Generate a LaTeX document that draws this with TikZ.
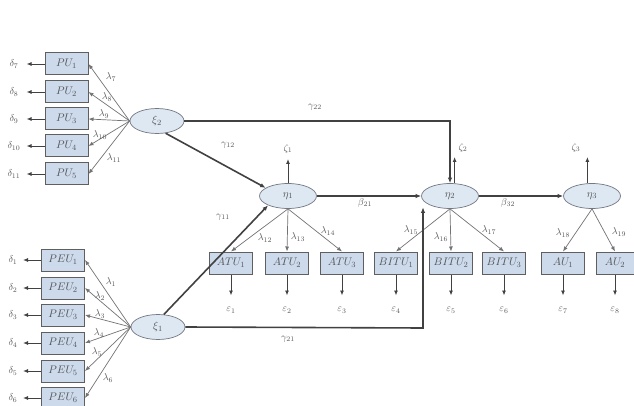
\documentclass[tikz,border=0pt]{standalone}
\usetikzlibrary{arrows.meta,shapes.geometric}
\definecolor{boxfill}{RGB}{204,218,236}
\definecolor{boxdraw}{RGB}{95,95,95}
\definecolor{ellfill}{RGB}{222,232,243}
\definecolor{elldraw}{RGB}{115,120,130}
\definecolor{strong}{RGB}{65,65,65}
\definecolor{weak}{RGB}{115,115,115}
\definecolor{lbl}{RGB}{85,85,85}
\begin{document}
\begin{tikzpicture}[x=1pt,y=-1pt,
  obs/.style={draw=boxdraw,fill=boxfill,line width=1pt,minimum width=43pt,minimum height=22pt,inner sep=0pt,font=\fontsize{11}{12}\selectfont,text=lbl},
  lat/.style={ellipse,draw=elldraw,fill=ellfill,line width=0.7pt,minimum width=54pt,minimum height=25pt,inner sep=0pt,font=\fontsize{11}{12}\selectfont,text=lbl},
  strongarr/.style={draw=strong,line width=1.6pt,-{Latex[length=5.5pt,width=4.5pt]}},
  weakarr/.style={draw=weak,line width=0.7pt,-{Latex[length=5pt,width=4pt]}},
  errarr/.style={draw=strong,line width=0.9pt,-{Latex[length=5pt,width=4pt]}},
  lab/.style={font=\fontsize{10}{11}\selectfont,text=lbl,inner sep=0pt}
]
\useasboundingbox (0,0) rectangle (634,406);

% latent variables
\node[lat] (xi2) at (157,121) {$\xi_2$};
\node[lat] (xi1) at (158,327) {$\xi_1$};
\node[lat,minimum width=57pt] (eta1) at (288,196) {$\eta_1$};
\node[lat,minimum width=57pt] (eta2) at (450,196) {$\eta_2$};
\node[lat,minimum width=57pt] (eta3) at (592,196) {$\eta_3$};

% PU boxes
\foreach \i/\y/\d in {1/64/7,2/92/8,3/119/9,4/146/10,5/174/11}{
  \node[obs] (pu\i) at (66.5,\y) {$PU_{\i}$};
  \node[lab] (dp\i) at (14,\y) {$\delta_{\d}$};
  \draw[errarr] (pu\i.west) -- ([xshift=-18pt]pu\i.west);
  \draw[weakarr] (xi2.west) -- (pu\i.east);
}
% PEU boxes
\foreach \i/\y in {1/260,2/288,3/315,4/343,5/371,6/398}{
  \node[obs] (peu\i) at (63,\y) {$PEU_{\i}$};
  \node[lab] (de\i) at (13,\y) {$\delta_{\i}$};
  \draw[errarr] (peu\i.west) -- ([xshift=-18pt]peu\i.west);
  \draw[weakarr] (xi1.west) -- (peu\i.east);
}

% loading labels, xi2
\node[lab] (l7) at (111,77) {$\lambda_7$};
\node[lab] (l8) at (107,97) {$\lambda_8$};
\node[lab] (l9) at (104,114) {$\lambda_9$};
\node[lab] (l10) at (100,135) {$\lambda_{10}$};
\node[lab] (l11) at (114,158) {$\lambda_{11}$};
% loading labels, xi1
\node[lab] (l1) at (111,282) {$\lambda_1$};
\node[lab] (l2) at (100,296) {$\lambda_2$};
\node[lab] (l3) at (100,314) {$\lambda_3$};
\node[lab] (l4) at (99,333) {$\lambda_4$};
\node[lab] (l5) at (97,352) {$\lambda_5$};
\node[lab] (l6) at (108,378) {$\lambda_6$};

% indicator boxes
\node[obs] (atu1) at (231,263) {$ATU_1$};
\node[obs] (atu2) at (287,263) {$ATU_2$};
\node[obs] (atu3) at (342,263) {$ATU_3$};
\node[obs] (bitu1) at (396,263) {$BITU_1$};
\node[obs] (bitu2) at (451,263) {$BITU_2$};
\node[obs] (bitu3) at (504,263) {$BITU_3$};
\node[obs] (au1) at (563,263) {$AU_1$};
\node[obs,minimum width=38pt] (au2) at (615,263) {$AU_2$};

% error terms
\foreach \b/\k in {atu1/1,atu2/2,atu3/3,bitu1/4,bitu2/5,bitu3/6,au1/7,au2/8}{
  \coordinate (e\k) at ([yshift=-21pt]\b.south);
  \draw[errarr] (\b.south) -- (e\k);
  \node[lab] (el\k) at ([yshift=-15pt]e\k) {$\varepsilon_{\k}$};
}

% loadings from endogenous
\draw[weakarr] (eta1.south) -- (atu1.north);
\draw[weakarr] (eta1.south) -- (atu2.north);
\draw[weakarr] (eta1.south) -- (atu3.north);
\draw[weakarr] (eta2.south) -- (bitu1.north);
\draw[weakarr] (eta2.south) -- (bitu2.north);
\draw[weakarr] (eta2.south) -- (bitu3.north);
\draw[weakarr] (eta3.south) -- (au1.north);
\draw[weakarr] (eta3.south) -- (au2.north);
\node[lab] (l12) at (265,238) {$\lambda_{12}$};
\node[lab] (l13) at (298,237) {$\lambda_{13}$};
\node[lab] (l14) at (328,231) {$\lambda_{14}$};
\node[lab] (l15) at (411,230) {$\lambda_{15}$};
\node[lab] (l16) at (441,237) {$\lambda_{16}$};
\node[lab] (l17) at (489,230) {$\lambda_{17}$};
\node[lab] (l18) at (563,233) {$\lambda_{18}$};
\node[lab] (l19) at (619,232) {$\lambda_{19}$};

% disturbances
\coordinate (z1) at (288,159);
\coordinate (z2) at (463,157);
\coordinate (z3) at (576,157);
\draw[errarr] (eta1.north) -- (z1);
\draw[errarr] (eta2.70) -- (eta2.70 |- z2);
\draw[errarr] (eta3.110) -- (eta3.110 |- z3);
\node[lab] (zl1) at (288,149) {$\zeta_1$};
\node[lab] (zl2) at (463,148) {$\zeta_2$};
\node[lab] (zl3) at (576,148) {$\zeta_3$};

% structural paths
\coordinate (c22) at (450,121);
\draw[strongarr] (xi2.east) -- (c22) -- (eta2.north);
\node[lab] (g22) at (315,107) {$\gamma_{22}$};
\draw[strongarr] (xi2.-55) -- (eta1.160);
\node[lab] (g12) at (228,145) {$\gamma_{12}$};
\draw[strongarr] (xi1.65) -- (eta1.205);
\node[lab] (g11) at (223,217) {$\gamma_{11}$};
\coordinate (c21) at (423,328);
\draw[strongarr] (xi1.east) -- (c21) -- (c21 |- eta2.220);
\node[lab] (g21) at (288,339) {$\gamma_{21}$};
\draw[strongarr] (eta1.east) -- (eta2.west);
\node[lab] (b21) at (365,203) {$\beta_{21}$};
\draw[strongarr] (eta2.east) -- (eta3.west);
\node[lab] (b32) at (508,203) {$\beta_{32}$};
\end{tikzpicture}
\end{document}
